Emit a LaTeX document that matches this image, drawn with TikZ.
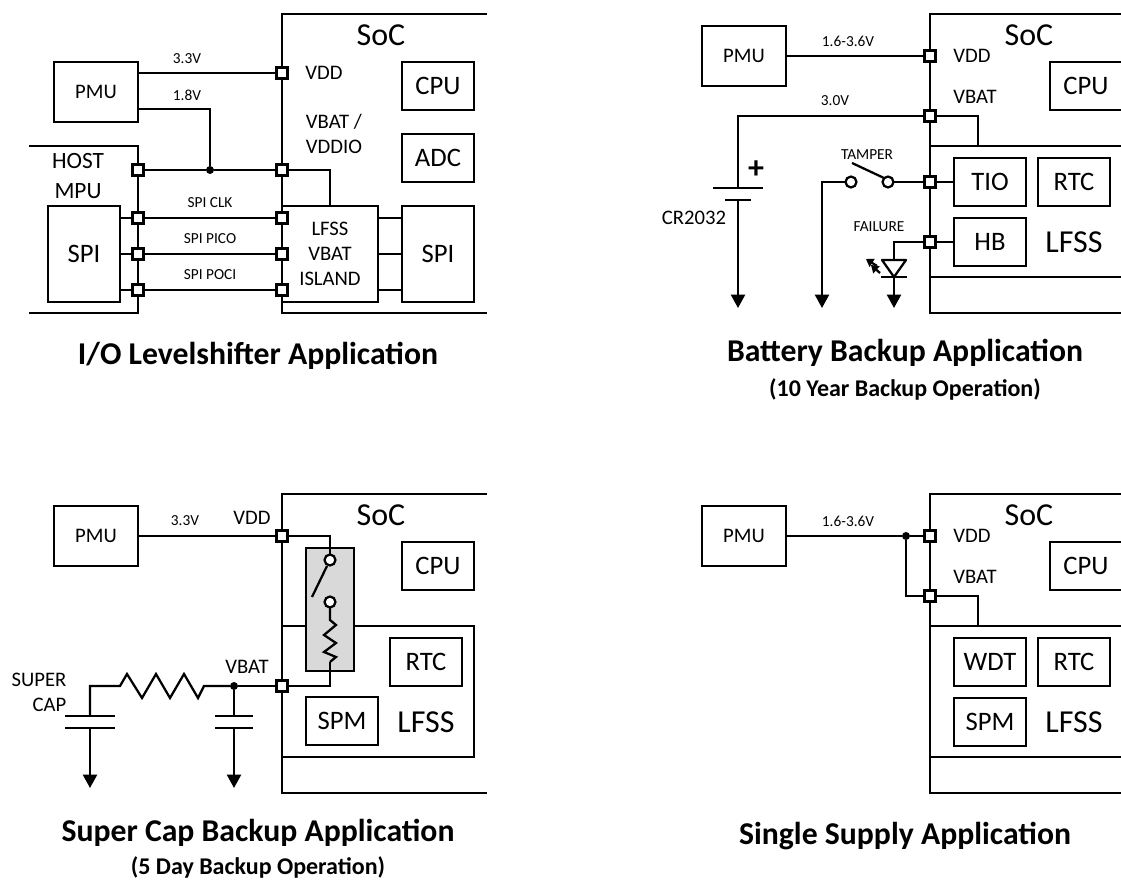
\documentclass[tikz,border=0pt]{standalone}
\usepackage{fontspec}
\setmainfont{Carlito}
\usetikzlibrary{
	arrows.meta,
	calc,
	positioning
}
\definecolor{SwitchGray}{RGB}{217,217,217}
\tikzset{
	wire/.style={line width=1.7pt, line join=miter},
	gnd/.style={wire, -{Triangle[length=10pt,width=10.5pt]}},
	block/.style={draw, line width=1.7pt, fill=white, inner sep=0pt, outer sep=0pt, font=\fontsize{20}{22}\selectfont},
	pmubox/.style={block, minimum width=63pt, minimum height=45pt, font=\fontsize{15.5}{18}\selectfont},
	cell/.style={block, minimum width=54pt, minimum height=36pt},
	pad/.style={draw, line width=1.7pt, fill=white, inner sep=0pt, outer sep=0pt, minimum size=8.2pt},
	term/.style={circle, draw, line width=1.7pt, fill=white, inner sep=0pt, outer sep=0pt, minimum size=8.2pt},
	dot/.style={circle, fill=black, inner sep=0pt, outer sep=0pt, minimum size=6pt},
	big/.style={font=\fontsize{24}{28}\selectfont},
	mid/.style={font=\fontsize{24}{28}\selectfont},
	pin/.style={font=\fontsize{15.5}{19}\selectfont},
	volt/.style={font=\fontsize{11.5}{14}\selectfont},
	title/.style={font=\fontsize{23.8}{28}\selectfont\bfseries},
	subtitle/.style={font=\fontsize{18}{22}\selectfont\bfseries},
	glow/.style={line width=1.7pt, -{Triangle[length=5.5pt,width=7pt]}}
}

\begin{document}
\begin{tikzpicture}[x=0.75pt, y=-0.75pt]
	\clip (0,0) rectangle (1121,880);

	% I/O level shifter
	\draw[wire] (487,14) -- (282,14) -- (282,313) -- (487,313);
	\draw[wire] (29,146) -- (138,146) -- (138,313) -- (29,313);
	\node[pmubox] (pmuA) at (96,92) {PMU};
	\node[cell] (cpuA) at (438,86) {CPU};
	\node[cell] (adcA) at (438,158) {ADC};
	\node[block, minimum width=54pt, minimum height=72pt] (spiHost) at (84,254) {SPI};
	\node[block, minimum width=72pt, minimum height=72pt, align=center, font=\fontsize{15.5}{18.8}\selectfont] (islandA) at (330,254) {LFSS\\VBAT\\ISLAND};
	\node[block, minimum width=54pt, minimum height=72pt] (spiSoc) at (438,254) {SPI};
	\node[pad] (vddA) at (282,73) {};
	\node[pad] (vbatA) at (282,170) {};
	\node[pad] (clkA) at (282,218) {};
	\node[pad] (picoA) at (282,254) {};
	\node[pad] (pociA) at (282,290) {};
	\node[pad] (vioHost) at (138,170) {};
	\node[pad] (clkHost) at (138,218) {};
	\node[pad] (picoHost) at (138,254) {};
	\node[pad] (pociHost) at (138,290) {};
	\node[dot] (joinA) at (210,170) {};
	\coordinate (railA) at (138,109);
	\draw[wire] (pmuA.east |- vddA) -- (vddA);
	\draw[wire] (railA) -| (joinA);
	\draw[wire] (vioHost) -- (joinA) -- (vbatA);
	\draw[wire] (vbatA) -| (islandA.north);
	\draw[wire] (clkHost) -- (clkA);
	\draw[wire] (picoHost) -- (picoA);
	\draw[wire] (pociHost) -- (pociA);
	\draw[wire] (spiHost.east |- clkHost) -- (clkHost);
	\draw[wire] (spiHost.east |- picoHost) -- (picoHost);
	\draw[wire] (spiHost.east |- pociHost) -- (pociHost);
	\draw[wire] (islandA.east |- clkA) -- (spiSoc.west |- clkA);
	\draw[wire] (islandA.east |- picoA) -- (spiSoc.west |- picoA);
	\draw[wire] (islandA.east |- pociA) -- (spiSoc.west |- pociA);
	\node[big] (socA) at (381,35) {SoC};
	\node[volt] (v33A) at (187,59) {3.3V};
	\node[volt] (v18A) at (187,95) {1.8V};
	\node[pin] (vddTextA) at (324,73) {VDD};
	\node[pin, align=left, font=\fontsize{15.5}{18.8}\selectfont] (vbatTextA) at (334,134) {VBAT /\\VDDIO};
	\node[font=\fontsize{17.5}{22}\selectfont, align=center] (hostA) at (78,176) {HOST\\MPU};
	\node[volt] (clkTextA) at (210,203) {SPI CLK};
	\node[volt] (picoTextA) at (210,239) {SPI PICO};
	\node[volt] (pociTextA) at (210,275) {SPI POCI};
	\node[title] (titleA) at (258,356) {I/O Levelshifter Application};

	% battery backup
	\draw[wire] (1125,14) -- (930,14) -- (930,313) -- (1125,313);
	\node[pmubox] (pmuB) at (744,56) {PMU};
	\node[cell] (cpuB) at (1086,86) {CPU};
	\node[block, minimum width=144pt, minimum height=98pt] (lfssB) at (1026,211.5) {};
	\node[cell] (tioB) at (990,182) {TIO};
	\node[cell] (rtcB) at (1074,182) {RTC};
	\node[cell] (hbB) at (990,242) {HB};
	\node[pad] (vddB) at (930,56) {};
	\node[pad] (vbatB) at (930,116) {};
	\node[pad] (tamperB) at (930,182) {};
	\node[pad] (failB) at (930,242) {};
	\node[term] (swOpenB) at (851,182) {};
	\node[term] (swHomeB) at (888,182) {};
	\coordinate (tapB) at (978,146);
	\coordinate (battPlus) at (738,188);
	\coordinate (battMinus) at (738,200);
	\coordinate (gndBatt) at (738,308);
	\coordinate (gndSw) at (822,308);
	\coordinate (gndLed) at (894,308);
	\coordinate (ledTop) at (894,260);
	\coordinate (ledTip) at (894,277);
	\draw[wire] (pmuB) -- (vddB);
	\draw[wire] (vbatB) -- (tapB |- vbatB) -- (tapB);
	\draw[wire] (vbatB) -| (battPlus);
	\draw[wire] (713,188) -- (763,188);
	\draw[wire] (725,200) -- (751,200);
	\draw[gnd] (battMinus) -- (gndBatt);
	\draw[gnd] (swOpenB) -| (gndSw);
	\draw[wire] (swHomeB) -- (tamperB);
	\draw[wire] (852,163) -- (884,178);
	\draw[wire] (tamperB) -- (tioB);
	\draw[wire] (failB) -- (hbB);
	\draw[wire] (failB) -| (ledTop);
	\draw[wire, line join=round] (ledTop) -- ++(-12,0) -- (ledTip) -- ($(ledTop)+(12,0)$) -- cycle;
	\draw[wire] (881,277) -- (907,277);
	\draw[gnd] (ledTip) -- (gndLed);
	\draw[glow] (877,266) -- (866,259);
	\draw[glow] (880,273) -- (871,265);
	\node[big] (socB) at (1029,35) {SoC};
	\node[volt] (v16B) at (848,41) {1.6-3.6V};
	\node[volt] (v30B) at (835,101) {3.0V};
	\node[pin] (vddTextB) at (972,56) {VDD};
	\node[pin] (vbatTextB) at (975,97) {VBAT};
	\node[font=\fontsize{24}{26}\selectfont\bfseries] (plusB) at (756,170) {+};
	\node[pin] (battText) at (694,218) {CR2032};
	\node[volt] (tamperText) at (867,155) {TAMPER};
	\node[volt] (failText) at (879,227) {FAILURE};
	\node[mid] (lfssTextB) at (1074,242) {LFSS};
	\node[title] (titleB) at (905,353) {Battery Backup Application};
	\node[subtitle] (subB) at (905,389) {(10 Year Backup Operation)};

	% super cap backup
	\draw[wire] (487,494) -- (282,494) -- (282,793) -- (487,793);
	\node[pmubox] (pmuC) at (96,536) {PMU};
	\node[cell] (cpuC) at (438,566) {CPU};
	\node[block, minimum width=144pt, minimum height=98pt] (lfssC) at (378,691.5) {};
	\node[cell] (rtcC) at (426,662) {RTC};
	\node[cell] (spmC) at (342,721) {SPM};
	\node[block, fill=SwitchGray, minimum width=36pt, minimum height=92pt] (relayC) at (330,609.5) {};
	\node[term] (swTopC) at (330,560) {};
	\node[term] (swBotC) at (330,602) {};
	\node[pad] (vddC) at (282,536) {};
	\node[pad] (vbatC) at (282,686) {};
	\node[dot] (joinC) at (234,686) {};
	\coordinate (zigEnd) at (330,662);
	\coordinate (bigCap) at (90,686);
	\coordinate (gndBig) at (90,788);
	\coordinate (gndSmall) at (234,788);
	\draw[wire] (pmuC) -- (vddC);
	\draw[wire] (vddC) -| (relayC.north);
	\draw[wire] (relayC.north) -- (swTopC);
	\draw[wire] (327,566) -- (312,597);
	\draw[wire] (swBotC) -- (330,620) -- (336,625) -- (324,635) -- (336,643) -- (324,652) -- (336,657) -- (zigEnd);
	\draw[wire] (vbatC) -| (zigEnd);
	\draw[wire] (joinC) -- (vbatC);
	\draw[wire] (joinC) -- (204,686) -- (198,698) -- (184,674) -- (170,698) -- (156,674) -- (142,698) -- (127,674) -- (120,686) -- (bigCap) -- (90,716);
	\draw[wire] (65,716) -- (115,716);
	\draw[wire] (65,728) -- (115,728);
	\draw[gnd] (90,728) -- (gndBig);
	\draw[wire] (joinC) -- (234,716);
	\draw[wire] (215,716) -- (253,716);
	\draw[wire] (215,728) -- (253,728);
	\draw[gnd] (234,728) -- (gndSmall);
	\node[big] (socC) at (381,515) {SoC};
	\node[volt] (v33C) at (185,521) {3.3V};
	\node[pin] (vddTextC) at (252,518) {VDD};
	\node[pin] (vbatTextC) at (247,667) {VBAT};
	\node[pin, align=right, font=\fontsize{15.5}{18.5}\selectfont] (superCap) at (39,692.5) {SUPER\\CAP};
	\node[mid] (lfssTextC) at (426,722) {LFSS};
	\node[title] (titleC) at (258,833) {Super Cap Backup Application};
	\node[subtitle] (subC) at (258,867) {(5 Day Backup Operation)};

	% single supply
	\draw[wire] (1125,494) -- (930,494) -- (930,793) -- (1125,793);
	\node[pmubox] (pmuD) at (744,536) {PMU};
	\node[cell] (cpuD) at (1086,566) {CPU};
	\node[block, minimum width=144pt, minimum height=98pt] (lfssD) at (1026,691.5) {};
	\node[cell] (wdtD) at (990,662) {WDT};
	\node[cell] (rtcD) at (1074,662) {RTC};
	\node[cell] (spmD) at (990,722) {SPM};
	\node[pad] (vddD) at (930,536) {};
	\node[pad] (vbatD) at (930,596) {};
	\node[dot] (joinD) at (906,536) {};
	\coordinate (tapD) at (978,626);
	\draw[wire] (pmuD) -- (joinD) -- (vddD);
	\draw[wire] (joinD) |- (vbatD);
	\draw[wire] (vbatD) -- (tapD |- vbatD) -- (tapD);
	\node[big] (socD) at (1029,515) {SoC};
	\node[volt] (v16D) at (848,521) {1.6-3.6V};
	\node[pin] (vddTextD) at (972,536) {VDD};
	\node[pin] (vbatTextD) at (975,577) {VBAT};
	\node[mid] (lfssTextD) at (1074,722) {LFSS};
	\node[title] (titleD) at (905,836) {Single Supply Application};
\end{tikzpicture}
\end{document}
